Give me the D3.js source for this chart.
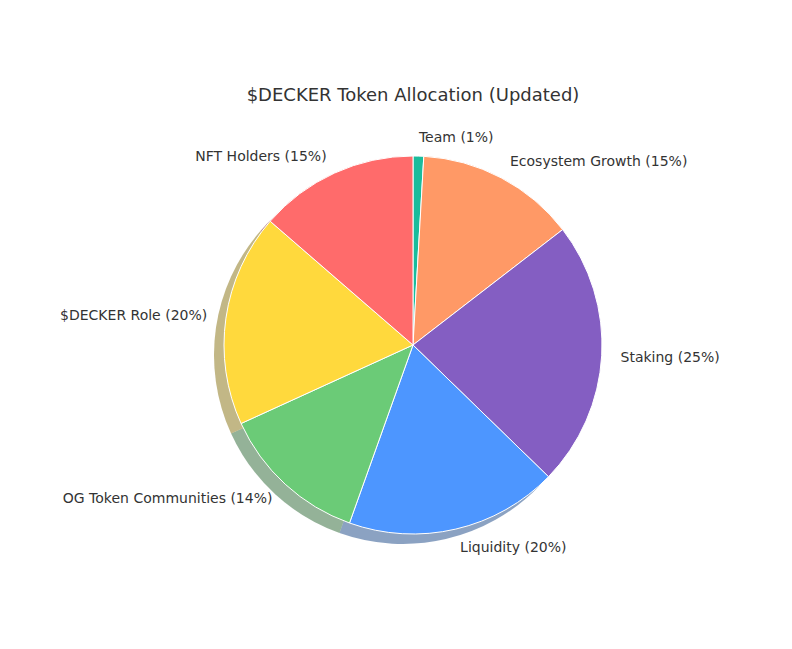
<!DOCTYPE html>
<html><head><meta charset="utf-8">
<script src="https://cdn.jsdelivr.net/npm/d3@7"></script>
<style>body{margin:0;background:#fff}text{font-family:"DejaVu Sans",sans-serif;fill:#333}</style>
</head><body><svg id="c" width="792" height="649"></svg>
<script>
var labels = ['Team (1%)', 'Ecosystem Growth (15%)', 'Staking (25%)', 'Liquidity (20%)', 'OG Token Communities (14%)', '$DECKER Role (20%)', 'NFT Holders (15%)'];
var values = [1, 15, 25, 20, 14, 20, 15];
var colors = ['#1abc9c', '#ff9966', '#845ec2', '#4d96ff', '#6bcb77', '#ffd93d', '#ff6b6b'];

var svg = d3.select('#c');
var cx = 413, cy = 345, r = 189;

svg.append('text').attr('x', 413).attr('y', 101).attr('text-anchor', 'middle')
    .style('font-size', '18px').text('$DECKER Token Allocation (Updated)');

var pie = d3.pie().sort(null).value(function(d) { return d; });
var arcs = pie(values);
var arc = d3.arc().innerRadius(0).outerRadius(r);

var shadow = svg.append('g').attr('transform', 'translate(' + (cx - 10) + ',' + (cy + 10) + ')');
shadow.selectAll('path').data(arcs).enter().append('path')
    .attr('d', arc)
    .attr('fill', function(d, i) { return d3.color(colors[i]).darker(1.6); })
    .attr('opacity', 0.55);

var g = svg.append('g').attr('transform', 'translate(' + cx + ',' + cy + ')');
g.selectAll('path').data(arcs).enter().append('path')
    .attr('d', arc)
    .attr('fill', function(d, i) { return colors[i]; })
    .attr('stroke', '#fff').attr('stroke-width', 1);

g.selectAll('text').data(arcs).enter().append('text')
    .each(function(d, i) {
        var a = (d.startAngle + d.endAngle) / 2;
        var x = Math.sin(a) * r * 1.1, y = -Math.cos(a) * r * 1.1;
        d3.select(this).attr('x', x).attr('y', y).attr('dy', '0.35em')
            .attr('text-anchor', x >= 0 ? 'start' : 'end')
            .style('font-size', '14px').text(labels[i]);
    });
</script></body></html>
